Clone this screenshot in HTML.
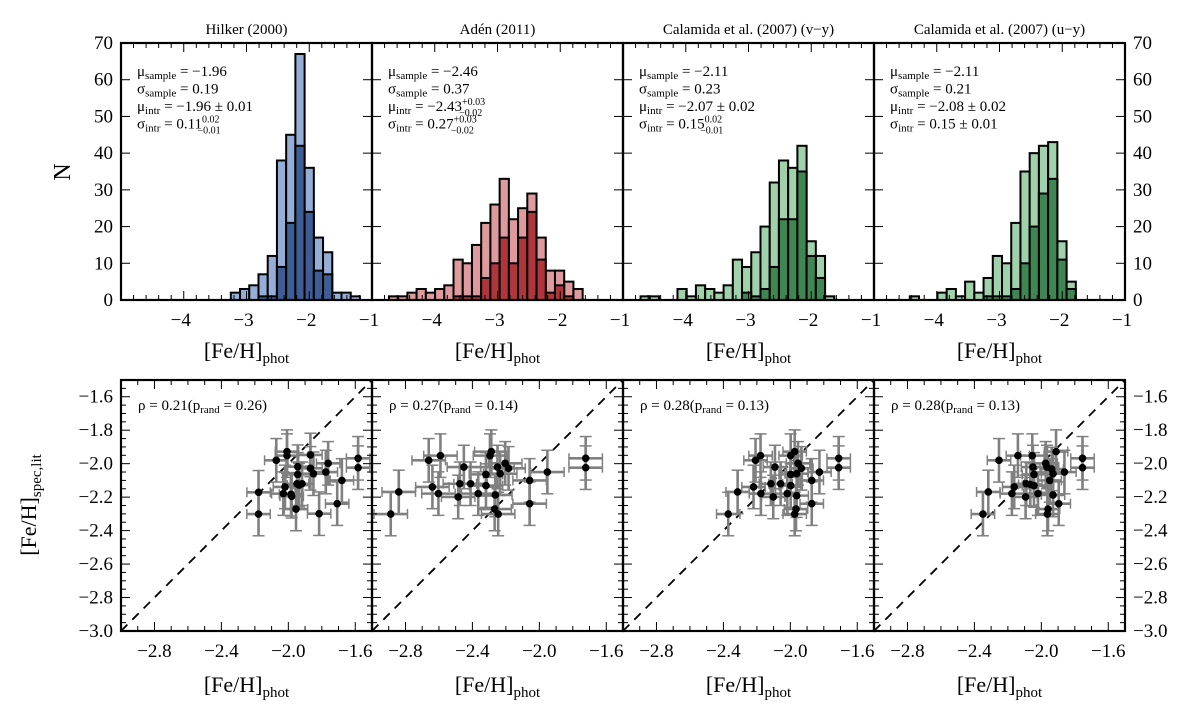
<!DOCTYPE html>
<html><head><meta charset="utf-8"><style>
body{margin:0;background:#fff;}
svg{display:block;font-family:"Liberation Serif","DejaVu Serif",serif;}
</style></head><body>
<svg id="fig" width="1200" height="705" viewBox="0 0 1200 705" xmlns="http://www.w3.org/2000/svg"></svg>
<script>
// ---------- DATA ----------
const titles = ["Hilker (2000)","Adén (2011)","Calamida et al. (2007) (v\u2212y)","Calamida et al. (2007) (u\u2212y)"];
const binWidth = 0.147;
const binStart = [-3.25,-4.73,-4.72,-4.43];
const histAll0 = [2,3,4,7,12,38,45,67,36,17,13,2,2,1];
const histSub0 = [0,0,0,1,1,9,21,42,24,8,7,0,0,0];
const histAll1 = [1,1,2,3,2,3,4,11,10,15,21,26,33,22,25,29,17,8,8,5,3];
const histSub1 = [0,0,0,0,0,0,0,1,1,1,6,10,17,10,17,24,11,2,4,1,0];
const histAll2 = [1,1,0,0,3,1,4,3,2,4,11,9,13,20,32,38,36,42,16,12,1];
const histSub2 = [0,0,0,0,0,0,0,0,0,0,0,2,1,3,9,22,22,35,12,6,0];
const histAll3 = [1,0,0,2,3,1,5,2,6,12,10,21,35,40,42,43,16,5];
const histSub3 = [0,0,0,0,0,0,0,0,1,1,1,3,10,20,29,33,11,3];
const yTicksTop = [0,10,20,30,40,50,60,70];
const xTicksTop = [-4,-3,-2,-1];
const xTicksBot = [-2.8,-2.4,-2.0,-1.6];
const yTicksBot = [-1.6,-1.8,-2.0,-2.2,-2.4,-2.6,-2.8,-3.0];
const statLines = [
 ["μ<tspan font-size='11' dy='3'>sample</tspan><tspan dy='-3'> = −1.96</tspan>","σ<tspan font-size='11' dy='3'>sample</tspan><tspan dy='-3'> = 0.19</tspan>","μ<tspan font-size='11' dy='3'>intr</tspan><tspan dy='-3'> = −1.96 ± 0.01</tspan>","σ<tspan font-size='11' dy='3'>intr</tspan><tspan dy='-3'> = 0.11</tspan><tspan font-size='10' dy='-6'>0.02</tspan><tspan font-size='10' dx='-22' dy='11'>−0.01</tspan>"],
 ["μ<tspan font-size='11' dy='3'>sample</tspan><tspan dy='-3'> = −2.46</tspan>","σ<tspan font-size='11' dy='3'>sample</tspan><tspan dy='-3'> = 0.37</tspan>","μ<tspan font-size='11' dy='3'>intr</tspan><tspan dy='-3'> = −2.43</tspan><tspan font-size='10' dy='-6'>+0.03</tspan><tspan font-size='10' dx='-26' dy='11'>−0.02</tspan>","σ<tspan font-size='11' dy='3'>intr</tspan><tspan dy='-3'> = 0.27</tspan><tspan font-size='10' dy='-6'>+0.03</tspan><tspan font-size='10' dx='-26' dy='11'>−0.02</tspan>"],
 ["μ<tspan font-size='11' dy='3'>sample</tspan><tspan dy='-3'> = −2.11</tspan>","σ<tspan font-size='11' dy='3'>sample</tspan><tspan dy='-3'> = 0.23</tspan>","μ<tspan font-size='11' dy='3'>intr</tspan><tspan dy='-3'> = −2.07 ± 0.02</tspan>","σ<tspan font-size='11' dy='3'>intr</tspan><tspan dy='-3'> = 0.15</tspan><tspan font-size='10' dy='-6'>0.02</tspan><tspan font-size='10' dx='-22' dy='11'>−0.01</tspan>"],
 ["μ<tspan font-size='11' dy='3'>sample</tspan><tspan dy='-3'> = −2.11</tspan>","σ<tspan font-size='11' dy='3'>sample</tspan><tspan dy='-3'> = 0.21</tspan>","μ<tspan font-size='11' dy='3'>intr</tspan><tspan dy='-3'> = −2.08 ± 0.02</tspan>","σ<tspan font-size='11' dy='3'>intr</tspan><tspan dy='-3'> = 0.15 ± 0.01</tspan>"]
];
const rhoText = ["ρ = 0.21(p<tspan font-size='11' dy='3'>rand</tspan><tspan dy='-3'> = 0.26)</tspan>","ρ = 0.27(p<tspan font-size='11' dy='3'>rand</tspan><tspan dy='-3'> = 0.14)</tspan>","ρ = 0.28(p<tspan font-size='11' dy='3'>rand</tspan><tspan dy='-3'> = 0.13)</tspan>","ρ = 0.28(p<tspan font-size='11' dy='3'>rand</tspan><tspan dy='-3'> = 0.13)</tspan>"];
const sx0 = [-2.178,-2.178,-2.072,-2.008,-2.008,-2.020,-2.030,-1.984,-1.980,-1.944,-1.944,-1.948,-1.936,-1.918,-1.954,-1.868,-1.868,-1.850,-1.776,-1.762,-1.816,-1.708,-1.680,-1.583,-1.583];
const sy0 = [-2.171,-2.301,-1.980,-1.928,-1.952,-2.139,-2.179,-2.183,-2.195,-2.018,-2.064,-2.120,-2.128,-2.120,-2.271,-1.948,-2.028,-2.060,-2.050,-1.998,-2.299,-2.239,-2.100,-1.968,-2.024];
const sx1 = [-2.888,-2.840,-2.661,-2.591,-2.639,-2.603,-2.485,-2.475,-2.451,-2.411,-2.365,-2.319,-2.319,-2.295,-2.287,-2.263,-2.267,-2.246,-2.250,-2.234,-2.204,-2.184,-2.058,-2.058,-1.952,-1.723,-1.723];
const sy1 = [-2.301,-2.169,-1.980,-1.952,-2.139,-2.179,-2.199,-2.120,-2.020,-2.120,-2.179,-2.064,-2.131,-1.952,-1.928,-2.187,-2.271,-2.301,-2.020,-2.060,-1.998,-2.028,-2.100,-2.239,-2.050,-1.968,-2.024];
const sx2 = [-2.371,-2.315,-2.220,-2.208,-2.178,-2.176,-2.116,-2.102,-2.092,-2.058,-2.018,-1.998,-1.998,-1.998,-1.974,-1.962,-1.962,-1.954,-1.934,-1.966,-1.974,-1.872,-1.872,-1.826,-1.711,-1.711];
const sy2 = [-2.301,-2.169,-2.139,-1.980,-1.952,-2.179,-2.120,-2.199,-2.020,-2.120,-2.179,-1.952,-2.064,-2.131,-1.928,-2.060,-2.191,-1.998,-2.028,-2.271,-2.301,-2.100,-2.239,-2.050,-1.968,-2.024];
const sx3 = [-2.349,-2.317,-2.253,-2.176,-2.162,-2.140,-2.094,-2.090,-2.066,-2.054,-2.050,-2.044,-2.044,-2.020,-1.974,-1.966,-1.950,-1.938,-1.930,-1.930,-1.960,-1.964,-1.912,-1.896,-1.862,-1.754,-1.754];
const sy3 = [-2.301,-2.169,-1.980,-2.179,-2.139,-1.952,-2.199,-2.120,-2.124,-1.952,-2.020,-2.064,-2.131,-2.179,-1.998,-2.020,-2.100,-2.032,-2.060,-2.187,-2.271,-2.301,-1.928,-2.239,-2.050,-1.968,-2.024];
const xErr = [0.07,0.10,0.07,0.07];
const yErr = [0.13,0.13,0.13,0.13];

// ---------- LAYOUT ----------
const NS="http://www.w3.org/2000/svg";
const svg=document.getElementById('fig');
const PL=[121,372,623,874], PW=251;
const TT=43, TB=300, BT=380, BB=631;
const lightC=["#94aed6","#df9a9d","#9fd1aa","#9fd1aa"], darkC=["#3d5d94","#b1363c","#3f8752","#3f8752"];
const hAll=[histAll0,histAll1,histAll2,histAll3], hSub=[histSub0,histSub1,histSub2,histSub3];
const SX=[sx0,sx1,sx2,sx3], SY=[sy0,sy1,sy2,sy3];
function el(tag,attrs,parent){const e=document.createElementNS(NS,tag);for(const k in attrs)e.setAttribute(k,attrs[k]);(parent||svg).appendChild(e);return e;}
const fmt=v=>(v<0?"\u2212":"")+Math.abs(v).toFixed(1);

for(let p=0;p<4;p++){
  const L=PL[p], R=L+PW;
  const xT=v=>L+(v+5)/4*PW, yT=v=>TB-v/70*(TB-TT);
  const xB=v=>L+(v+3)/1.5*PW, yB=v=>BB-(v+3)/1.5*(BB-BT);
  // ---- top histogram ----
  const g=el('g',{});
  
  
  const t=el('text',{x:(L+R)/2,y:34,'text-anchor':'middle','font-size':15},g);
  t.textContent=titles[p];
  
  
  const drawBars=(arr,col,nm)=>{arr.forEach((v,i)=>{if(v<=0)return;const x0=xT(binStart[p]+i*binWidth),x1=xT(binStart[p]+(i+1)*binWidth);
    const r=el('rect',{x:x0,y:yT(v),width:x1-x0,height:TB-yT(v),fill:col,stroke:'#000','stroke-width':2},g);
    
    });};
  drawBars(hAll[p],lightC[p],'hist-bar-all');
  drawBars(hSub[p],darkC[p],'hist-bar-subsample');
  // ticks
  for(let v=-5;v<=-1.001;v+=0.2){const x=xT(v),maj=Math.abs(v-Math.round(v))<1e-6;const l=maj?9:5;
    el('line',{x1:x,x2:x,y1:TB,y2:TB-l,stroke:'#000','stroke-width':1},g);el('line',{x1:x,x2:x,y1:TT,y2:TT+l,stroke:'#000','stroke-width':1},g);}
  yTicksTop.forEach(v=>{const y=yT(v);el('line',{x1:L,x2:L+9,y1:y,y2:y,stroke:'#000'},g);el('line',{x1:R,x2:R-9,y1:y,y2:y,stroke:'#000'},g);
    if(p==0){const tt=el('text',{x:L-8,y:y+6,'text-anchor':'end','font-size':19},g);tt.textContent=v;}
    if(p==3){const tt=el('text',{x:R+8,y:y+6,'text-anchor':'start','font-size':19},g);tt.textContent=v;}});
  xTicksTop.forEach(v=>{const tt=el('text',{x:xT(v)-3,y:TB+26,'text-anchor':'middle','font-size':19},g);tt.textContent="\u2212"+Math.abs(v);});
  el('rect',{x:L,y:TT,width:PW,height:TB-TT,fill:'none',stroke:'#000','stroke-width':2.2},g);
  const xl=el('text',{x:(L+R)/2,y:358,'text-anchor':'middle','font-size':22},g);
  xl.innerHTML="[Fe/H]<tspan font-size='15' dy='5'>phot</tspan>";
  
  
  statLines[p].forEach((s,i)=>{const st=el('text',{x:L+16,y:76+i*17.5,'font-size':15,'font-style':'normal'},g);st.innerHTML=s;
    
    });

  // ---- bottom scatter ----
  const h=el('g',{});
  
  
  const cp=el('clipPath',{id:'cp'+p},h);el('rect',{x:L,y:BT,width:PW,height:BB-BT},cp);
  const inner=el('g',{'clip-path':'url(#cp'+p+')'},h);
  const dl=el('line',{x1:xB(-3),y1:yB(-3),x2:xB(-1.5),y2:yB(-1.5),stroke:'#000','stroke-width':1.8,'stroke-dasharray':'9,7'},inner);
  
  
  const X=SX[p],Y=SY[p];
  X.forEach((xv,i)=>{const x=xB(xv),y=yB(Y[i]),xe=xErr[p],ye=yErr[p];
    const eb=el('g',{stroke:'#808080','stroke-width':2.6},inner);
    
    
    el('line',{x1:xB(xv-xe),x2:xB(xv+xe),y1:y,y2:y},eb);
    el('line',{x1:x,x2:x,y1:yB(Y[i]-ye),y2:yB(Y[i]+ye)},eb);
    el('line',{x1:xB(xv-xe),x2:xB(xv-xe),y1:y-5,y2:y+5,'stroke-width':1.5},eb);
    el('line',{x1:xB(xv+xe),x2:xB(xv+xe),y1:y-5,y2:y+5,'stroke-width':1.5},eb);
    el('line',{x1:x-6,x2:x+6,y1:yB(Y[i]-ye),y2:yB(Y[i]-ye),'stroke-width':1.5},eb);
    el('line',{x1:x-6,x2:x+6,y1:yB(Y[i]+ye),y2:yB(Y[i]+ye),'stroke-width':1.5},eb);});
  X.forEach((xv,i)=>{const c=el('circle',{cx:xB(xv),cy:yB(Y[i]),r:3.8,fill:'#000'},inner);
    
    });
  for(let k=0;k<=15;k++){const v=-3+k*0.1,x=xB(v),maj=Math.abs(v*10/4-Math.round(v*10/4))<1e-6;const l=maj?9:5;
    el('line',{x1:x,x2:x,y1:BB,y2:BB-l,stroke:'#000'},h);el('line',{x1:x,x2:x,y1:BT,y2:BT+l,stroke:'#000'},h);}
  for(let k=0;k<=30;k++){const v=-3+k*0.05,y=yB(v),maj=(k%4==0);const l=maj?9:5;
    el('line',{x1:L,x2:L+l,y1:y,y2:y,stroke:'#000'},h);el('line',{x1:R,x2:R-l,y1:y,y2:y,stroke:'#000'},h);}
  yTicksBot.forEach(v=>{const y=yB(v);
    if(p==0){const tt=el('text',{x:L-8,y:y+6,'text-anchor':'end','font-size':19},h);tt.textContent=fmt(v);}
    if(p==3){const tt=el('text',{x:R+8,y:y+6,'text-anchor':'start','font-size':19},h);tt.textContent=fmt(v);}});
  xTicksBot.forEach(v=>{const tt=el('text',{x:xB(v),y:BB+26,'text-anchor':'middle','font-size':19},h);tt.textContent=fmt(v);});
  el('rect',{x:L,y:BT,width:PW,height:BB-BT,fill:'none',stroke:'#000','stroke-width':2.2},h);
  const rt=el('text',{x:L+17,y:410,'font-size':15},h);rt.innerHTML=rhoText[p];
  
  
  const xl2=el('text',{x:(L+R)/2,y:692,'text-anchor':'middle','font-size':22},h);
  xl2.innerHTML="[Fe/H]<tspan font-size='15' dy='5'>phot</tspan>";
  
  
}
const yl=el('text',{x:0,y:0,'font-size':24,'text-anchor':'middle',transform:'translate(70,172) rotate(-90)'});
yl.textContent="N";


const yl2=el('text',{x:0,y:0,'font-size':22,'text-anchor':'middle',transform:'translate(36,505) rotate(-90)'});
yl2.innerHTML="[Fe/H]<tspan font-size='15' dy='5'>spec,lit</tspan>";


</script>
</body></html>
